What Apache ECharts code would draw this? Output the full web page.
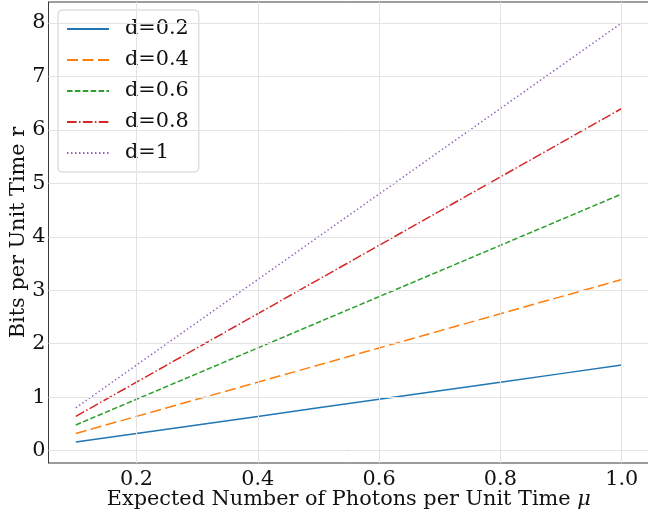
<!DOCTYPE html>
<html><head><meta charset="utf-8">
<script src="https://cdn.jsdelivr.net/npm/echarts@6/dist/echarts.min.js"></script>
<style>html,body{margin:0;padding:0;background:#fff}#c{width:648px;height:517px}</style>
</head><body><div id="c"></div>
<script>
const mu = [0.1,0.2,0.3,0.4,0.5,0.6,0.7,0.8,0.9,1.0];
const r_d02 = [0.16,0.32,0.48,0.64,0.80,0.96,1.12,1.28,1.44,1.60];
const r_d04 = [0.32,0.64,0.96,1.28,1.60,1.92,2.24,2.56,2.88,3.20];
const r_d06 = [0.48,0.96,1.44,1.92,2.40,2.88,3.36,3.84,4.32,4.80];
const r_d08 = [0.64,1.28,1.92,2.56,3.20,3.84,4.48,5.12,5.76,6.40];
const r_d10 = [0.80,1.60,2.40,3.20,4.00,4.80,5.60,6.40,7.20,8.00];
const seriesNames = ['d=0.2','d=0.4','d=0.6','d=0.8','d=1'];
const xTicks = [0.2,0.4,0.6,0.8,1.0];
const yTicks = [0,1,2,3,4,5,6,7,8];

const colors = ['#1f77b4','#ff7f0e','#2ca02c','#d62728','#9467bd'];
const dashes = ['solid',[11,4.5],[5.5,2.4],[9.6,2.4,1.5,2.4],[1.5,2.5]];
const allY = [r_d02,r_d04,r_d06,r_d08,r_d10];
const FONT = "'DejaVu Serif', serif";
const FS = 20.8;

const series = allY.map((ys,i)=>({
  name: seriesNames[i], type:'line', showSymbol:false, symbol:'none',
  data: mu.map((x,j)=>[x, ys[j]]), z: 3,
  lineStyle:{color:colors[i], width:1.5, type:dashes[i]},
  itemStyle:{color:colors[i]}
}));
const gridColor = '#e3e3e3';
series.push({
  type:'line', data:[], silent:true, z:1,
  markLine:{silent:true, symbol:'none', label:{show:false},
    lineStyle:{color:gridColor, width:1, type:'solid'},
    data: xTicks.map(v=>({xAxis:v})).concat(yTicks.map(v=>({yAxis:v})))}
});

const chart = echarts.init(document.getElementById('c'), null, {renderer:'canvas'});
chart.setOption({
  animation:false,
  color: colors,
  grid:{left:48.5, right:-1, top:2, bottom:54, show:true, borderColor:'#3a3a3a', borderWidth:1,
    containLabel:false, outerBoundsMode:'none'},
  xAxis:{type:'value', min:0.055, max:1.045,
    name:'Expected Number of Photons per Unit Time {i|μ}', nameLocation:'middle', nameGap:26,
    nameMoveOverlap:false,
    nameTextStyle:{fontFamily:FONT, fontSize:FS, color:'#111',
      rich:{i:{fontFamily:FONT, fontSize:FS, fontStyle:'italic', color:'#111'}}},
    axisLine:{show:true, lineStyle:{color:'#3a3a3a'}},
    axisTick:{show:true, inside:true, length:3.5, customValues:xTicks, lineStyle:{color:'#3a3a3a'}},
    axisLabel:{customValues:xTicks, fontFamily:FONT, fontSize:FS, color:'#111', margin:6,
      formatter:v=>v.toFixed(1)},
    splitLine:{show:false}},
  yAxis:{type:'value', min:-0.232, max:8.392,
    name:'Bits per Unit Time r', nameLocation:'middle', nameGap:19,
    nameMoveOverlap:false,
    nameTextStyle:{fontFamily:FONT, fontSize:FS, color:'#111'},
    axisLine:{show:true, lineStyle:{color:'#3a3a3a'}},
    axisTick:{show:true, inside:true, length:3.5, customValues:yTicks, lineStyle:{color:'#3a3a3a'}},
    axisLabel:{customValues:yTicks, fontFamily:FONT, fontSize:FS, color:'#111', margin:3,
      formatter:v=>String(Math.round(v))},
    splitLine:{show:false}},
  legend:{show:true, orient:'vertical', left:58, top:10, data:seriesNames,
    backgroundColor:'rgba(255,255,255,0.8)', borderColor:'#d0d0d0', borderWidth:1, borderRadius:4,
    padding:[6,10,6,8], itemWidth:42, itemHeight:14, itemGap:5,
    itemStyle:{opacity:0},
    textStyle:{fontFamily:FONT, fontSize:FS, color:'#111', lineHeight:26, padding:[0,0,0,11]}},
  series: series
});
</script></body></html>
